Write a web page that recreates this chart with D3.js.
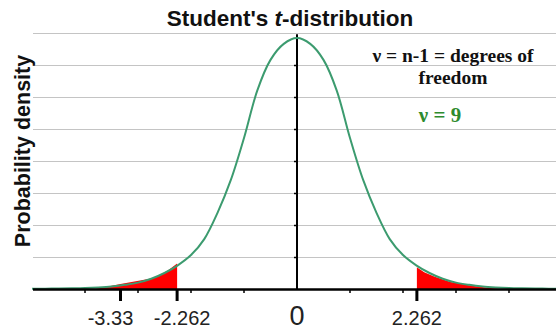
<!DOCTYPE html>
<meta charset="utf-8">
<style>
    body { margin: 0; background: #fff; }
    .grid line { stroke: #c4c4c4; stroke-width: 1px; }
    .curve { fill: none; stroke: #3c9b6f; stroke-width: 2px; }
    .tail { fill: #ff0000; stroke: none; }
    .lbl { font-family: "Liberation Sans", Arial, sans-serif; fill: #222; }
    .note { font-family: "Liberation Serif", "Times New Roman", serif; font-weight: bold; }
</style>
<script src="https://d3js.org/d3.v7.min.js"></script>

<body>
    <div id="chart"></div>
    <script>
        // density curve (nu = 9)
        var tVals = [-5, -4.75, -4.5, -4.25, -4, -3.75, -3.5, -3.25, -3, -2.75, -2.5, -2.25, -2, -1.75, -1.5, -1.25, -1, -0.75, -0.5, -0.25,
            0, 0.25, 0.5, 0.75, 1, 1.25, 1.5, 1.75, 2, 2.25, 2.5, 2.75, 3, 3.25, 3.5, 3.75, 4, 4.25, 4.5, 4.75, 5];
        var density = [0.0003, 0.0005, 0.0007, 0.0010, 0.0015, 0.0025, 0.0040, 0.0065, 0.0100, 0.0160, 0.0250, 0.0370, 0.0530, 0.0780, 0.1190, 0.1700, 0.2360, 0.3100, 0.3580, 0.3830,
            0.3920, 0.3830, 0.3580, 0.3100, 0.2360, 0.1700, 0.1190, 0.0780, 0.0530, 0.0370, 0.0250, 0.0160, 0.0100, 0.0065, 0.0040, 0.0025, 0.0015, 0.0010, 0.0007, 0.0005, 0.0003];

        // shaded rejection regions (drawn a bit coarser than the curve)
        var leftTailT = [-3.8, -3.33, -2.7, -2.45, -2.262, -2.262];
        var leftTailD = [0, 0.008, 0.017, 0.028, 0.040, 0];
        var rightTailT = [2.262, 2.262, 2.4, 2.6, 2.9, 3.3, 3.8];
        var rightTailD = [0, 0.034, 0.026, 0.019, 0.011, 0.005, 0];

        var gridVals = [0.05, 0.10, 0.15, 0.20, 0.25, 0.30, 0.35, 0.40];
        var minorTicks = [-4, -3, -2, -1, 1, 2, 3, 4];
        var majorTicks = [-3.33, -2.262, 2.262];
        var majorLabels = ["-3.33", "-2.262", "2.262"];

        var W = 556, H = 331;
        var svg = d3.select("#chart").append("svg")
            .attr("width", W)
            .attr("height", H);

        var x = d3.scaleLinear().domain([-5, 5]).range([32, 562]);
        var y = d3.scaleLinear().domain([0, 0.4]).range([289, 33]);

        // gridlines
        svg.append("g").attr("class", "grid")
            .selectAll("line").data(gridVals).enter().append("line")
            .attr("x1", 33).attr("x2", W)
            .attr("y1", d => Math.round(y(d)) + 0.5)
            .attr("y2", d => Math.round(y(d)) + 0.5);

        // tails
        var area = d3.line().x(d => x(d[0])).y(d => y(d[1]));
        svg.append("path").attr("class", "tail")
            .attr("d", area(d3.zip(leftTailT, leftTailD)) + "Z");
        svg.append("path").attr("class", "tail")
            .attr("d", area(d3.zip(rightTailT, rightTailD)) + "Z");

        // vertical axis at t = 0
        svg.append("line")
            .attr("x1", x(0)).attr("x2", x(0))
            .attr("y1", y(0)).attr("y2", y(0.398))
            .attr("stroke", "#000").attr("stroke-width", 2);
        svg.append("g").selectAll("line").data(gridVals.slice(0, 7)).enter().append("line")
            .attr("x1", x(0) - 3).attr("x2", x(0))
            .attr("y1", d => y(d) + 0.5).attr("y2", d => y(d) + 0.5)
            .attr("stroke", "#000").attr("stroke-width", 1.5);

        // curve
        var line = d3.line().curve(d3.curveCatmullRom.alpha(0.5))
            .x(d => x(d[0])).y(d => y(d[1]));
        svg.append("path").attr("class", "curve")
            .datum(d3.zip(tVals, density))
            .attr("d", line);

        // x axis
        svg.append("line")
            .attr("x1", 33).attr("x2", W)
            .attr("y1", y(0) + 0.5).attr("y2", y(0) + 0.5)
            .attr("stroke", "#000").attr("stroke-width", 2.5);
        svg.append("g").selectAll("line").data(minorTicks).enter().append("line")
            .attr("x1", d => x(d)).attr("x2", d => x(d))
            .attr("y1", y(0)).attr("y2", y(0) + 4)
            .attr("stroke", "#000").attr("stroke-width", 1.5);
        svg.append("g").selectAll("line").data(majorTicks).enter().append("line")
            .attr("x1", d => x(d)).attr("x2", d => x(d))
            .attr("y1", y(0)).attr("y2", y(0) + 12)
            .attr("stroke", "#000").attr("stroke-width", 3);
        // labels pushed apart a little so the two left ones don't touch
        var nudge = [-10, 5, 0];
        svg.append("g").selectAll("text").data(majorTicks).enter().append("text")
            .attr("class", "lbl")
            .attr("x", (d, i) => x(d) + nudge[i]).attr("y", 325)
            .attr("text-anchor", "middle")
            .style("font-size", "20px")
            .text((d, i) => majorLabels[i]);
        svg.append("text").attr("class", "lbl")
            .attr("x", x(0)).attr("y", 325)
            .attr("text-anchor", "middle")
            .style("font-size", "27px")
            .text("0");

        // title
        var title = svg.append("text").attr("class", "lbl")
            .attr("x", 290).attr("y", 26)
            .attr("text-anchor", "middle")
            .style("font-size", "22.5px").style("font-weight", "bold")
            .style("fill", "#111");
        title.append("tspan").text("Student's ");
        title.append("tspan").style("font-style", "italic").text("t");
        title.append("tspan").text("-distribution");

        // y label
        svg.append("text").attr("class", "lbl")
            .attr("transform", "translate(30,151) rotate(-90)")
            .attr("text-anchor", "middle")
            .style("font-size", "21.5px").style("font-weight", "bold")
            .style("fill", "#111")
            .text("Probability density");

        // notes
        svg.append("text").attr("class", "note")
            .attr("x", 453).attr("y", 62)
            .attr("text-anchor", "middle")
            .style("font-size", "19.5px").style("fill", "#111")
            .text("\u03bd = n-1 = degrees of");
        svg.append("text").attr("class", "note")
            .attr("x", 453).attr("y", 84)
            .attr("text-anchor", "middle")
            .style("font-size", "19.5px").style("fill", "#111")
            .text("freedom");
        svg.append("text").attr("class", "note")
            .attr("x", 440).attr("y", 122)
            .attr("text-anchor", "middle")
            .style("font-size", "21px").style("fill", "#2e8b2e")
            .text("\u03bd = 9");
    </script>
</body>
